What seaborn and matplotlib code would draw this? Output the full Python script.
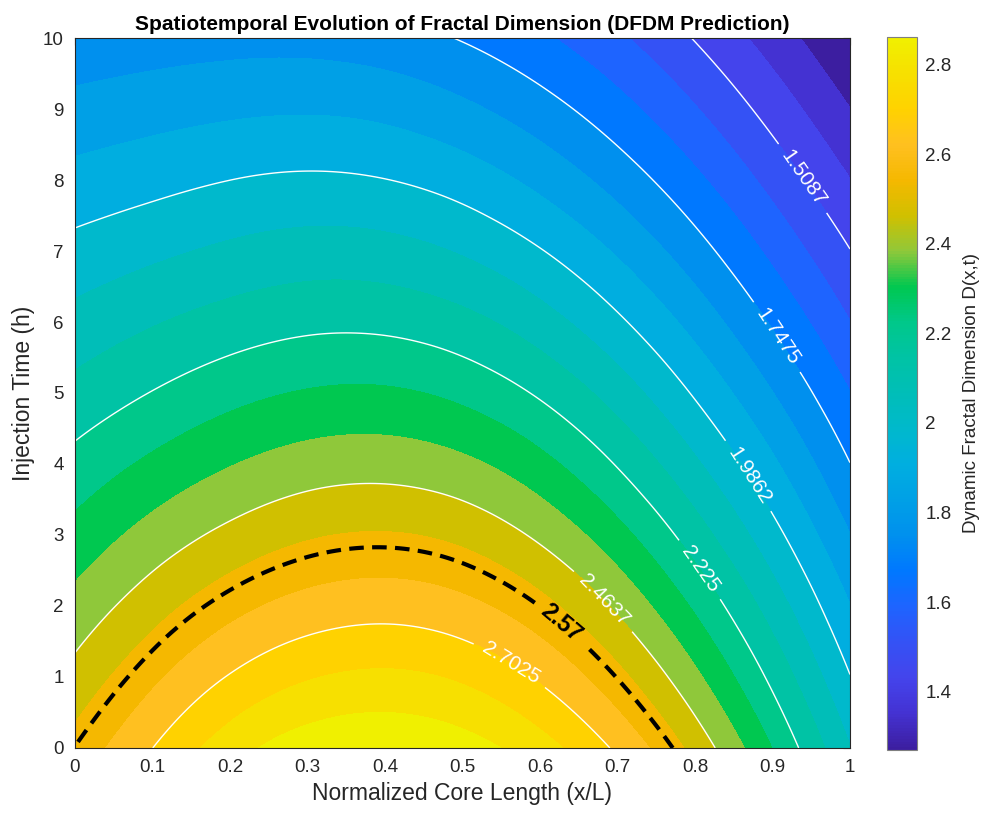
import numpy as np
import matplotlib
matplotlib.use("Agg")
import matplotlib.pyplot as plt
import matplotlib.tri as mtri
from matplotlib.colors import Normalize
from matplotlib.cm import ScalarMappable
import seaborn as sns

# ==========================================
# Data: D(x,t) on a coarse grid
# ==========================================
x_norm = [0.0, 0.1, 0.2, 0.3, 0.4, 0.5, 0.6, 0.7, 0.8, 0.9, 1.0]
t_hours = [0, 1, 2, 3, 4, 5, 6, 7, 8, 9, 10]

# one row per injection time (h), values along x/L
D_t00 = [2.572, 2.702, 2.826, 2.905, 2.927, 2.896, 2.815, 2.688, 2.516, 2.303, 2.069]
D_t01 = [2.491, 2.606, 2.708, 2.775, 2.797, 2.769, 2.691, 2.567, 2.402, 2.205, 1.989]
D_t02 = [2.411, 2.510, 2.595, 2.652, 2.671, 2.644, 2.569, 2.449, 2.292, 2.109, 1.909]
D_t03 = [2.331, 2.415, 2.485, 2.534, 2.549, 2.522, 2.448, 2.333, 2.184, 2.014, 1.829]
D_t04 = [2.251, 2.321, 2.380, 2.421, 2.431, 2.402, 2.330, 2.219, 2.079, 1.921, 1.749]
D_t05 = [2.171, 2.228, 2.278, 2.311, 2.316, 2.284, 2.214, 2.109, 1.977, 1.829, 1.670]
D_t06 = [2.092, 2.139, 2.179, 2.205, 2.204, 2.170, 2.101, 2.001, 1.878, 1.738, 1.590]
D_t07 = [2.012, 2.048, 2.081, 2.101, 2.095, 2.058, 1.991, 1.897, 1.781, 1.649, 1.511]
D_t08 = [1.933, 1.960, 1.986, 1.999, 1.988, 1.950, 1.884, 1.795, 1.686, 1.562, 1.431]
D_t09 = [1.853, 1.874, 1.891, 1.898, 1.884, 1.844, 1.781, 1.697, 1.594, 1.477, 1.351]
D_t10 = [1.773, 1.787, 1.798, 1.798, 1.780, 1.742, 1.682, 1.602, 1.504, 1.393, 1.270]

# range of the automatic contour levels (from the labels 1.5087 ... 2.7025)
level_lo, level_hi = 1.2700, 2.9412
critical_D = 2.57
cbar_ticks = [1.4, 1.6, 1.8, 2.0, 2.2, 2.4, 2.6, 2.8]
cbar_ticklabels = ["1.4", "1.6", "1.8", "2", "2.2", "2.4", "2.6", "2.8"]

# band colours (lowest -> highest), parula-like
band_hex = ["#3c1ea0", "#4432d2", "#4444ec", "#3452f5", "#1e64ff", "#0078ff",
            "#0090ee", "#00a0e6", "#00aee0", "#00b9cc", "#00beb8", "#00c3a5",
            "#00c88a", "#00c850", "#8fc83a", "#d0c000", "#f5b800", "#ffc020",
            "#ffd200", "#f7e000", "#f0f000"]

# where the contour labels sit (data coords)
label_spots = [(0.94, 8.03), (0.906, 5.79), (0.867, 3.82),
               (0.806, 2.51), (0.686, 2.11), (0.565, 1.24)]
critical_spot = [(0.63, 1.80)]

# ==========================================
# Style
# ==========================================
sns.set_theme(style="white")
plt.rcParams['font.family'] = ['Liberation Sans', 'DejaVu Sans']
ink = "#262626"

frac_dim = np.array([D_t00, D_t01, D_t02, D_t03, D_t04, D_t05,
                     D_t06, D_t07, D_t08, D_t09, D_t10])

# automatic levels like the original: 21 fill bands, 6 labelled lines
fill_levels = np.linspace(level_lo, level_hi, 22)
line_levels = np.linspace(level_lo, level_hi, 8)[1:-1]

# smooth the coarse grid with matplotlib's cubic tri refiner
X, T = np.meshgrid(x_norm, t_hours)
ny, nx = frac_dim.shape
idx = np.arange(nx * ny).reshape(ny, nx)
a, b = idx[:-1, :-1].ravel(), idx[:-1, 1:].ravel()
c, d = idx[1:, 1:].ravel(), idx[1:, :-1].ravel()
triangles = np.concatenate([np.stack([a, b, c], 1), np.stack([a, c, d], 1)])
tri_unit = mtri.Triangulation(X.ravel(), T.ravel() / 10.0, triangles)
interp = mtri.CubicTriInterpolator(tri_unit, frac_dim.ravel(), kind='min_E')
tri_fine, d_fine = mtri.UniformTriRefiner(tri_unit).refine_field(
    frac_dim.ravel(), triinterpolator=interp, subdiv=4)
tri_plot = mtri.Triangulation(tri_fine.x, tri_fine.y * 10.0, tri_fine.triangles)

cmap = sns.blend_palette(band_hex, as_cmap=True)
band_colors = sns.color_palette(band_hex, n_colors=len(band_hex))

fig = plt.figure(figsize=(9.84, 8.14), dpi=100)
ax = fig.add_axes([0.0762, 0.0811, 0.7876, 0.8722])
cax = fig.add_axes([0.9014, 0.0786, 0.0305, 0.876])

levels_fill = fill_levels.copy()
levels_fill[0] = min(d_fine.min(), level_lo) - 1e-3
levels_fill[-1] = max(d_fine.max(), level_hi) + 1e-3
ax.tricontourf(tri_plot, d_fine, levels=levels_fill, colors=band_colors)

cs = ax.tricontour(tri_plot, d_fine, levels=line_levels, colors='white', linewidths=1.0)
ax.clabel(cs, fmt='%.5g', fontsize=15, colors='white', manual=label_spots,
          inline=True, inline_spacing=10)

cs_crit = ax.tricontour(tri_plot, d_fine, levels=[critical_D], colors='black', linewidths=3.0)
cs_crit.set_linestyle((0, (3.5, 2.0)))
crit_labels = ax.clabel(cs_crit, fmt='%.3g', fontsize=17, colors='black',
                        manual=critical_spot, inline=True, inline_spacing=10)
for txt in crit_labels:
    txt.set_fontweight('bold')

ax.set_xlim(0, 1)
ax.set_ylim(0, 10)
ax.set_xticks(x_norm)
ax.set_xticklabels([f"{v:g}" for v in x_norm])
ax.set_yticks(t_hours)
ax.set_yticklabels([f"{v:g}" for v in t_hours])
ax.tick_params(direction='in', top=True, right=True, length=5, width=0.8,
               color=ink, labelcolor=ink, labelsize=13.5, pad=8)
for sp in ax.spines.values():
    sp.set_color(ink)
    sp.set_linewidth(0.8)
    sp.set_visible(True)

ax.set_xlabel("Normalized Core Length (x/L)", fontsize=16.5, color=ink, labelpad=4)
ax.set_ylabel("Injection Time (h)", fontsize=16.5, color=ink, labelpad=6)
ax.set_title("Spatiotemporal Evolution of Fractal Dimension (DFDM Prediction)",
             fontsize=15, fontweight='bold', color='black', pad=6)

sm = ScalarMappable(norm=Normalize(fill_levels[0], fill_levels[-2]), cmap=cmap)
cb = fig.colorbar(sm, cax=cax)
cb.set_ticks(cbar_ticks)
cb.set_ticklabels(cbar_ticklabels)
cb.ax.tick_params(direction='in', length=5, width=0.8, color=ink,
                  labelcolor=ink, labelsize=13.5, pad=6)
cb.outline.set_edgecolor('#7f7f7f')
cb.outline.set_linewidth(0.8)
cb.set_label("Dynamic Fractal Dimension D(x,t)", fontsize=13.5, color=ink, labelpad=8)

fig.savefig("out.png", dpi=100)
